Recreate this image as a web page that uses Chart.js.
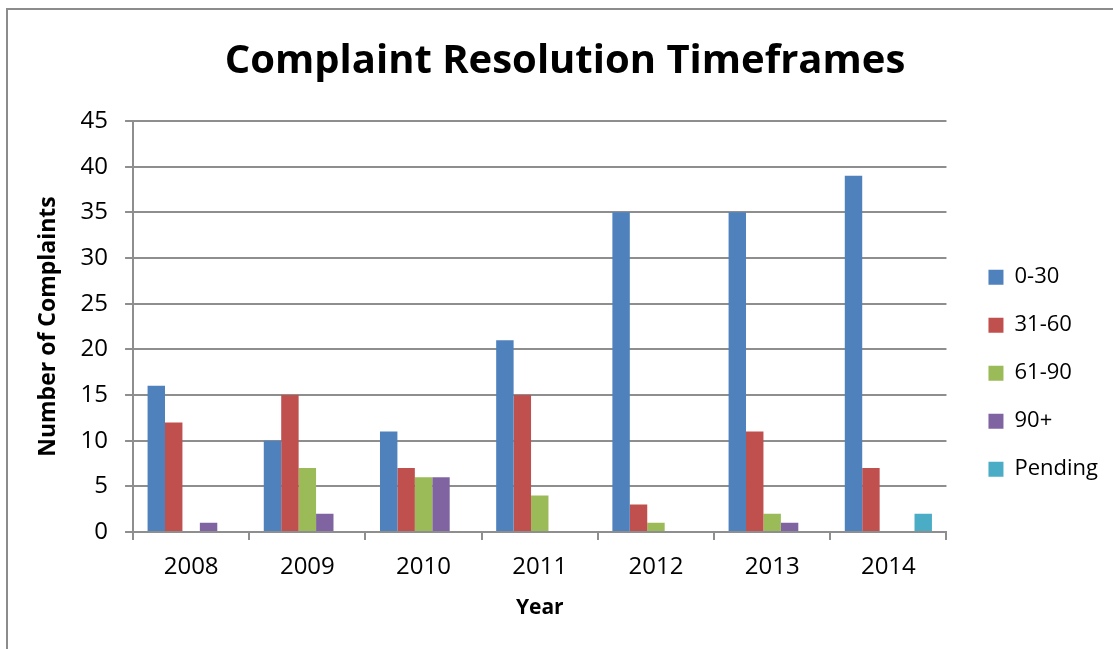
<!DOCTYPE html>
<html>
<head>
<meta charset="utf-8">
<title>Complaint Resolution Timeframes</title>
<script src="https://cdn.jsdelivr.net/npm/chart.js@4/dist/chart.umd.min.js"></script>
<style>
  html, body { margin: 0; padding: 0; background: #fff; overflow: hidden; }
  #frame {
    position: absolute;
    left: 6px;
    top: 8px;
    width: 1105px;
    height: 639px;
    border-top: 2px solid #8c8c8c;
    border-left: 2px solid #8c8c8c;
  }
</style>
</head>
<body>
<div id="frame"><canvas id="chart"></canvas></div>
<script>
const years = ["2008", "2009", "2010", "2011", "2012", "2013", "2014"];
const seriesNames = ["0-30", "31-60", "61-90", "90+", "Pending"];
const days0to30 = [16, 10, 11, 21, 35, 35, 39];
const days31to60 = [12, 15, 7, 15, 3, 11, 7];
const days61to90 = [0, 7, 6, 4, 1, 2, 0];
const days90plus = [1, 2, 6, 0, 0, 1, 0];
const pending = [0, 0, 0, 0, 0, 0, 2];
const yTicks = [0, 5, 10, 15, 20, 25, 30, 35, 40, 45];

const colors = ["#4f81bd", "#c0504d", "#9bbb59", "#8064a2", "#4bacc6"];
const values = [days0to30, days31to60, days61to90, days90plus, pending];

Chart.defaults.font.family = "'Open Sans', sans-serif";
Chart.defaults.color = "#000";

const gridColor = "#8e8e8e";

new Chart(document.getElementById("chart"), {
  type: "bar",
  data: {
    labels: years,
    datasets: seriesNames.map((name, i) => ({
      label: name,
      data: values[i],
      backgroundColor: colors[i],
      borderWidth: 0,
      categoryPercentage: 0.75,
      barPercentage: 1,
    })),
  },
  options: {
    responsive: true,
    maintainAspectRatio: false,
    animation: false,
    layout: { padding: { left: 14, right: 5, top: 0, bottom: 18 } },
    plugins: {
      title: {
        display: true,
        text: "Complaint Resolution Timeframes",
        font: { size: 40, weight: "bold" },
        padding: { top: 28, bottom: 35 },
      },
      legend: {
        position: "right",
        fullSize: false,
        // empty title only pushes the entries down to where the original sits
        title: { display: true, text: " ", padding: { top: 0, bottom: 79 } },
        labels: {
          boxWidth: 15,
          boxHeight: 15,
          padding: 26,
          font: { size: 22 },
        },
      },
      tooltip: { enabled: false },
    },
    scales: {
      x: {
        grid: {
          drawOnChartArea: false,
          drawTicks: true,
          tickLength: 8,
          color: gridColor,
          lineWidth: 2,
        },
        border: { color: gridColor, width: 2 },
        ticks: { font: { size: 24 }, padding: 13 },
        title: {
          display: true,
          text: "Year",
          font: { size: 21, weight: "bold" },
          padding: { top: 1, bottom: 10 },
        },
      },
      y: {
        min: 0,
        max: 45,
        afterBuildTicks: (scale) => {
          scale.ticks = yTicks.map((v) => ({ value: v }));
        },
        grid: { color: gridColor, tickLength: 8, lineWidth: 2 },
        border: { color: gridColor, width: 2 },
        ticks: { font: { size: 24 }, padding: 17 },
        title: {
          display: true,
          text: "Number of Complaints",
          font: { size: 23, weight: "bold" },
          padding: { top: 13, bottom: 1 },
        },
      },
      y2: {
        type: "linear",
        position: "right",
        grid: { display: false },
        border: { display: false },
        ticks: { display: false },
        afterFit: (scale) => {
          scale.width = 16;
        },
      },
    },
  },
});
</script>
</body>
</html>
